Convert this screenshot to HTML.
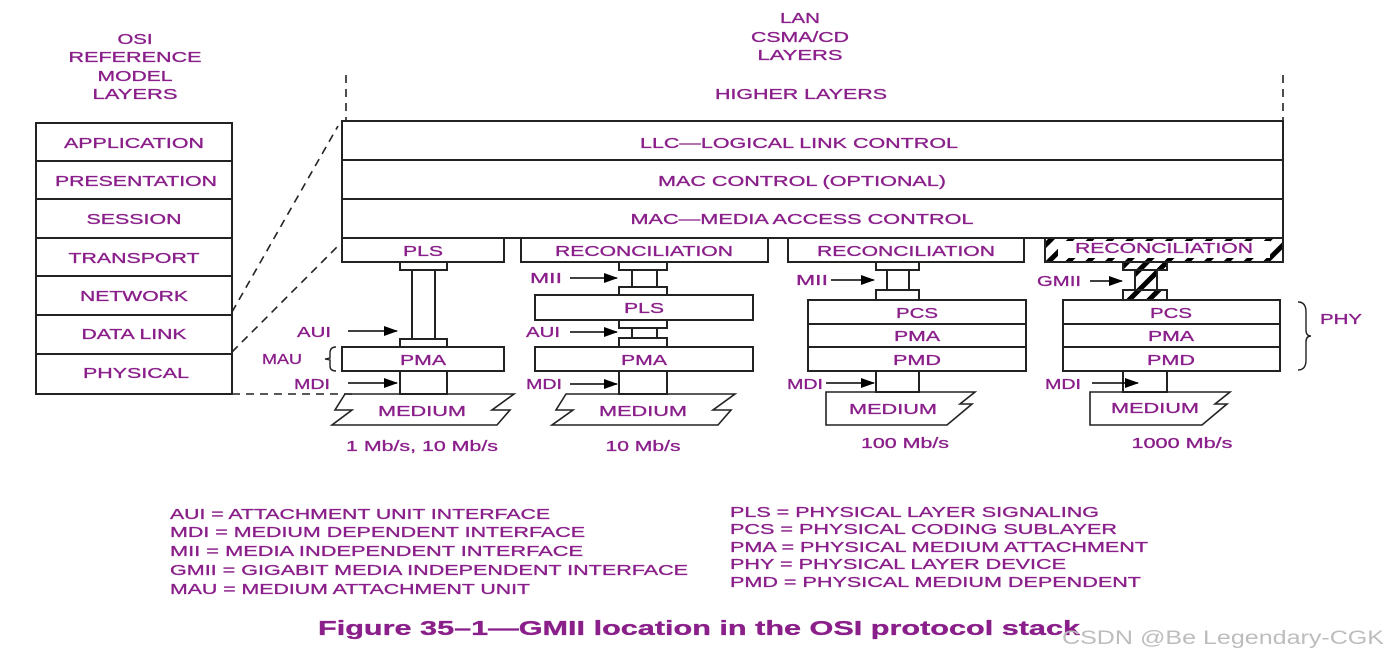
<!DOCTYPE html>
<html><head><meta charset="utf-8"><style>
html,body{margin:0;padding:0;background:#fff;}
svg{display:block;}
text{font-family:"Liberation Sans",Arial,sans-serif;fill:#8a1f8a;font-size:15px;stroke:#8a1f8a;stroke-width:0.3px;}
.c{text-anchor:middle;}
</style></head><body>
<svg width="1387" height="661" viewBox="0 0 1387 661" xmlns="http://www.w3.org/2000/svg">
<defs>
<marker id="ar" markerWidth="14" markerHeight="10" refX="13" refY="5" orient="auto" markerUnits="userSpaceOnUse"><path d="M0,0 L14,5 L0,10 Z" fill="#000"/></marker>
<pattern id="hat" width="14" height="14" patternUnits="userSpaceOnUse" patternTransform="rotate(45)"><rect width="14" height="14" fill="#fff"/><rect width="5" height="14" fill="#000"/></pattern>
</defs>
<g stroke="#222" stroke-width="2" fill="none">
<rect x="36" y="123" width="196" height="271"/>
<line x1="36" y1="161" x2="232" y2="161"/><line x1="36" y1="199" x2="232" y2="199"/>
<line x1="36" y1="238" x2="232" y2="238"/><line x1="36" y1="276" x2="232" y2="276"/>
<line x1="36" y1="315" x2="232" y2="315"/><line x1="36" y1="354" x2="232" y2="354"/>
<g stroke-dasharray="8,6" stroke-width="1.6">
<line x1="232" y1="312" x2="338" y2="126"/>
<line x1="232" y1="352" x2="338" y2="246"/>
<line x1="232" y1="394" x2="356" y2="394"/>
<line x1="346" y1="75" x2="346" y2="120"/>
<line x1="1283" y1="75" x2="1283" y2="120"/>
</g>
<rect x="342" y="121" width="941" height="117"/>
<line x1="342" y1="160" x2="1283" y2="160"/><line x1="342" y1="199" x2="1283" y2="199"/>
<rect x="342" y="238" width="162" height="24"/>
<rect x="400" y="262" width="47" height="8"/>
<line x1="412" y1="270" x2="412" y2="339"/><line x1="435" y1="270" x2="435" y2="339"/>
<rect x="400" y="339" width="47" height="8"/>
<rect x="342" y="347" width="162" height="24"/>
<rect x="400" y="371" width="47" height="23"/>
<path d="M345,394 L514,394 L492,410 L510,410 L497,425 L332,425 L352,410 L335,410 Z" stroke-width="1.6"/>
<rect x="521" y="238" width="247" height="24"/>
<rect x="619" y="262" width="48" height="8"/>
<line x1="632" y1="270" x2="632" y2="287"/><line x1="657" y1="270" x2="657" y2="287"/>
<rect x="619" y="287" width="48" height="8"/>
<rect x="535" y="295" width="218" height="25"/>
<rect x="619" y="320" width="48" height="8"/>
<line x1="632" y1="328" x2="632" y2="338"/><line x1="657" y1="328" x2="657" y2="338"/>
<rect x="619" y="338" width="48" height="9"/>
<rect x="535" y="347" width="218" height="24"/>
<rect x="619" y="371" width="48" height="23"/>
<path d="M566,394 L735,394 L713,410 L731,410 L718,425 L552,425 L573,410 L556,410 Z" stroke-width="1.6"/>
<rect x="788" y="238" width="236" height="24"/>
<rect x="876" y="262" width="43" height="8"/>
<line x1="887" y1="270" x2="887" y2="290"/><line x1="909" y1="270" x2="909" y2="290"/>
<rect x="876" y="290" width="43" height="10"/>
<rect x="808" y="300" width="218" height="71"/>
<line x1="808" y1="324" x2="1026" y2="324"/><line x1="808" y1="347" x2="1026" y2="347"/>
<rect x="876" y="371" width="43" height="21"/>
<path d="M826,392 L975,392 L960,404 L972,404 L947,425 L826,425 Z" stroke-width="1.6"/>
<rect x="1045" y="238" width="238" height="24" fill="url(#hat)"/>
<rect x="1058" y="241" width="212" height="17" fill="#fff" stroke="none"/>
<rect x="1135" y="262" width="22" height="38" fill="url(#hat)"/>
<rect x="1123" y="262" width="44" height="8" fill="url(#hat)"/>
<rect x="1123" y="290" width="44" height="10" fill="url(#hat)"/>
<rect x="1063" y="300" width="217" height="71"/>
<line x1="1063" y1="324" x2="1280" y2="324"/><line x1="1063" y1="347" x2="1280" y2="347"/>
<rect x="1123" y="371" width="44" height="21"/>
<path d="M1090,392 L1230,392 L1215,404 L1227,404 L1202,425 L1090,425 Z" stroke-width="1.6"/>
<path d="M1298,302 Q1306,302 1306,312 L1306,330 Q1306,336 1311,336 Q1306,336 1306,342 L1306,360 Q1306,370 1298,370" stroke-width="1.4"/>
<path d="M336,347 Q330,347 330,353 L330,358 L325,359 L330,360 L330,366 Q330,371 336,371" stroke-width="1.4"/>
</g>
<g stroke="#000" stroke-width="1.6" marker-end="url(#ar)">
<line x1="348" y1="331" x2="397" y2="331"/>
<line x1="348" y1="383" x2="397" y2="383"/>
<line x1="570" y1="278" x2="617" y2="278"/>
<line x1="570" y1="332" x2="617" y2="332"/>
<line x1="570" y1="384" x2="617" y2="384"/>
<line x1="831" y1="280" x2="874" y2="280"/>
<line x1="826" y1="383" x2="874" y2="383"/>
<line x1="1090" y1="281" x2="1122" y2="281"/>
<line x1="1092" y1="383" x2="1138" y2="383"/>
</g>
<g>
<text class="c" x="135" y="44" textLength="35" lengthAdjust="spacingAndGlyphs">OSI</text>
<text class="c" x="135" y="62" textLength="133" lengthAdjust="spacingAndGlyphs">REFERENCE</text>
<text class="c" x="135" y="81" textLength="75" lengthAdjust="spacingAndGlyphs">MODEL</text>
<text class="c" x="135" y="99" textLength="85" lengthAdjust="spacingAndGlyphs">LAYERS</text>
<text class="c" x="800" y="23" textLength="40" lengthAdjust="spacingAndGlyphs">LAN</text>
<text class="c" x="800" y="42" textLength="98" lengthAdjust="spacingAndGlyphs">CSMA/CD</text>
<text class="c" x="800" y="60" textLength="85" lengthAdjust="spacingAndGlyphs">LAYERS</text>
<text class="c" x="801" y="99" textLength="172" lengthAdjust="spacingAndGlyphs">HIGHER LAYERS</text>
<text class="c" x="134" y="148" textLength="140" lengthAdjust="spacingAndGlyphs">APPLICATION</text>
<text class="c" x="136" y="186" textLength="162" lengthAdjust="spacingAndGlyphs">PRESENTATION</text>
<text class="c" x="134" y="224" textLength="95" lengthAdjust="spacingAndGlyphs">SESSION</text>
<text class="c" x="134" y="263" textLength="131" lengthAdjust="spacingAndGlyphs">TRANSPORT</text>
<text class="c" x="134" y="301" textLength="108" lengthAdjust="spacingAndGlyphs">NETWORK</text>
<text class="c" x="134" y="339" textLength="105" lengthAdjust="spacingAndGlyphs">DATA LINK</text>
<text class="c" x="136" y="378" textLength="106" lengthAdjust="spacingAndGlyphs">PHYSICAL</text>
<text class="c" x="799" y="148" textLength="318" lengthAdjust="spacingAndGlyphs">LLC—LOGICAL LINK CONTROL</text>
<text class="c" x="802" y="186" textLength="288" lengthAdjust="spacingAndGlyphs">MAC CONTROL (OPTIONAL)</text>
<text class="c" x="802" y="224" textLength="343" lengthAdjust="spacingAndGlyphs">MAC—MEDIA ACCESS CONTROL</text>
<text class="c" x="423" y="256" textLength="40" lengthAdjust="spacingAndGlyphs">PLS</text>
<text class="c" x="644" y="256" textLength="178" lengthAdjust="spacingAndGlyphs">RECONCILIATION</text>
<text class="c" x="906" y="256" textLength="178" lengthAdjust="spacingAndGlyphs">RECONCILIATION</text>
<text class="c" x="1164" y="253" textLength="178" lengthAdjust="spacingAndGlyphs">RECONCILIATION</text>
<text x="530" y="283" textLength="32" lengthAdjust="spacingAndGlyphs">MII</text>
<text x="526" y="337" textLength="34" lengthAdjust="spacingAndGlyphs">AUI</text>
<text x="526" y="389" textLength="36" lengthAdjust="spacingAndGlyphs">MDI</text>
<text class="c" x="644" y="313" textLength="40" lengthAdjust="spacingAndGlyphs">PLS</text>
<text class="c" x="644" y="365" textLength="46" lengthAdjust="spacingAndGlyphs">PMA</text>
<text class="c" x="423" y="365" textLength="46" lengthAdjust="spacingAndGlyphs">PMA</text>
<text x="297" y="337" textLength="34" lengthAdjust="spacingAndGlyphs">AUI</text>
<text x="262" y="364" textLength="40" lengthAdjust="spacingAndGlyphs">MAU</text>
<text x="294" y="389" textLength="36" lengthAdjust="spacingAndGlyphs">MDI</text>
<text x="796" y="285" textLength="32" lengthAdjust="spacingAndGlyphs">MII</text>
<text x="1037" y="286" textLength="44" lengthAdjust="spacingAndGlyphs">GMII</text>
<text x="787" y="389" textLength="36" lengthAdjust="spacingAndGlyphs">MDI</text>
<text x="1045" y="389" textLength="36" lengthAdjust="spacingAndGlyphs">MDI</text>
<text class="c" x="917" y="318" textLength="42" lengthAdjust="spacingAndGlyphs">PCS</text>
<text class="c" x="917" y="341" textLength="46" lengthAdjust="spacingAndGlyphs">PMA</text>
<text class="c" x="917" y="365" textLength="48" lengthAdjust="spacingAndGlyphs">PMD</text>
<text class="c" x="1171" y="318" textLength="42" lengthAdjust="spacingAndGlyphs">PCS</text>
<text class="c" x="1171" y="341" textLength="46" lengthAdjust="spacingAndGlyphs">PMA</text>
<text class="c" x="1171" y="365" textLength="48" lengthAdjust="spacingAndGlyphs">PMD</text>
<text x="1320" y="324" textLength="42" lengthAdjust="spacingAndGlyphs">PHY</text>
<text class="c" x="422" y="416" textLength="88" lengthAdjust="spacingAndGlyphs">MEDIUM</text>
<text class="c" x="643" y="416" textLength="88" lengthAdjust="spacingAndGlyphs">MEDIUM</text>
<text class="c" x="893" y="414" textLength="88" lengthAdjust="spacingAndGlyphs">MEDIUM</text>
<text class="c" x="1155" y="413" textLength="88" lengthAdjust="spacingAndGlyphs">MEDIUM</text>
<text class="c" x="422" y="451" textLength="152" lengthAdjust="spacingAndGlyphs">1 Mb/s, 10 Mb/s</text>
<text class="c" x="643" y="451" textLength="75" lengthAdjust="spacingAndGlyphs">10 Mb/s</text>
<text class="c" x="905" y="448" textLength="88" lengthAdjust="spacingAndGlyphs">100 Mb/s</text>
<text class="c" x="1182" y="448" textLength="101" lengthAdjust="spacingAndGlyphs">1000 Mb/s</text>
<text x="170" y="519" textLength="380" lengthAdjust="spacingAndGlyphs">AUI = ATTACHMENT UNIT INTERFACE</text>
<text x="170" y="537" textLength="415" lengthAdjust="spacingAndGlyphs">MDI = MEDIUM DEPENDENT INTERFACE</text>
<text x="170" y="556" textLength="413" lengthAdjust="spacingAndGlyphs">MII = MEDIA INDEPENDENT INTERFACE</text>
<text x="170" y="575" textLength="518" lengthAdjust="spacingAndGlyphs">GMII = GIGABIT MEDIA INDEPENDENT INTERFACE</text>
<text x="170" y="594" textLength="360" lengthAdjust="spacingAndGlyphs">MAU = MEDIUM ATTACHMENT UNIT</text>
<text x="730" y="517" textLength="369" lengthAdjust="spacingAndGlyphs">PLS = PHYSICAL LAYER SIGNALING</text>
<text x="730" y="534" textLength="387" lengthAdjust="spacingAndGlyphs">PCS = PHYSICAL CODING SUBLAYER</text>
<text x="730" y="552" textLength="418" lengthAdjust="spacingAndGlyphs">PMA = PHYSICAL MEDIUM ATTACHMENT</text>
<text x="730" y="569" textLength="336" lengthAdjust="spacingAndGlyphs">PHY = PHYSICAL LAYER DEVICE</text>
<text x="730" y="587" textLength="411" lengthAdjust="spacingAndGlyphs">PMD = PHYSICAL MEDIUM DEPENDENT</text>
<text x="318" y="635" textLength="762" lengthAdjust="spacingAndGlyphs" style="font-size:20px;font-weight:bold">Figure 35–1—GMII location in the OSI protocol stack</text>
<text x="1062" y="644" textLength="322" lengthAdjust="spacingAndGlyphs" style="fill:#bdbdbd;stroke:none;font-size:19px">CSDN @Be Legendary-CGK</text>
</g>
</svg>
</body></html>
